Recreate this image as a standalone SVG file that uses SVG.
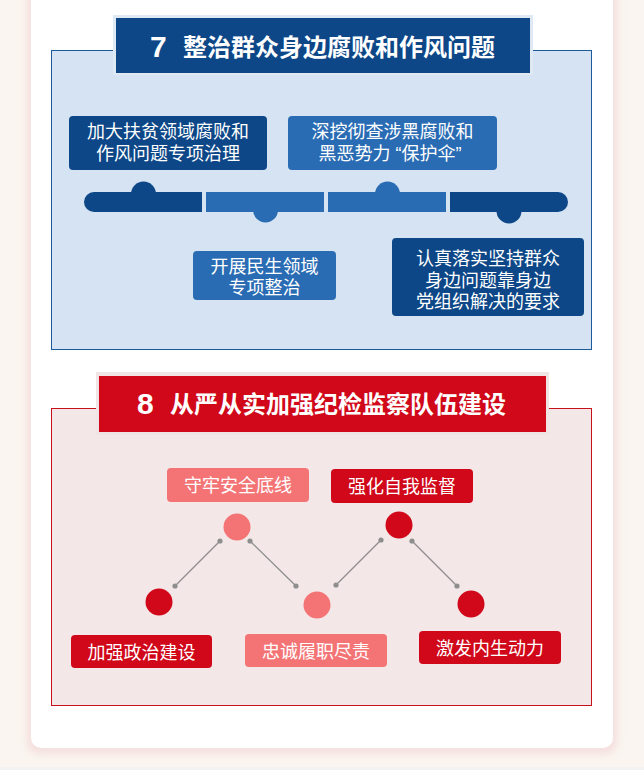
<svg xmlns="http://www.w3.org/2000/svg" width="644" height="770" viewBox="0 0 644 770">
  <defs>
    <filter id="shadow" x="-10%" y="-10%" width="120%" height="120%">
      <feGaussianBlur stdDeviation="4"/>
    </filter>
    <style>
      .lbl { font-family: "Liberation Sans", "Noto Sans CJK SC", sans-serif; font-size: 18px; fill: #ffffff; text-anchor: middle; }
      .ttl { font-family: "Liberation Sans", "Noto Sans CJK SC", sans-serif; font-size: 24px; font-weight: bold; fill: #ffffff; }
      .num { font-family: "Liberation Sans", Arial, sans-serif; font-size: 30px; font-weight: bold; fill: #ffffff; }
      .dkb { fill: #0d4787; }
      .mdb { fill: #2a6cb4; }
      .red { fill: #d0081a; }
      .sal { fill: #f47476; }
      .conn { stroke: #8e8e8e; stroke-width: 1.3; fill: none; }
      .dot { fill: #8e8e8e; }
    </style>
  </defs>

  <!-- background -->
  <rect x="0" y="0" width="644" height="770" fill="#faf5f0"/>
  <rect x="0" y="767" width="644" height="3" fill="#f3f3f3"/>
  <rect x="27" y="-20" width="590" height="774" rx="12" fill="#f2d6d6" opacity="0.7" filter="url(#shadow)"/>
  <rect x="31" y="-20" width="582" height="768" rx="10" fill="#ffffff"/>

  <!-- Section 7 -->
  <g id="section7">
    <rect x="51.5" y="50.5" width="540" height="299" fill="#d5e3f2" stroke="#1d5a9c" stroke-width="1"/>
    <g id="title7">
      <rect x="113" y="15" width="420" height="60" fill="#dfe9f4"/>
      <rect x="116" y="18" width="414" height="55" fill="#0d4787"/>
      <text class="num" x="150" y="57">7</text>
      <text class="ttl" x="183" y="56">整治群众身边腐败和作风问题</text>
    </g>
  </g>

  <g id="timeline">
    <circle cx="143.5" cy="194" r="12.5" class="dkb"/>
    <rect x="84" y="192" width="118" height="20" rx="10" class="dkb"/>
    <rect x="100" y="192" width="102" height="20" class="dkb"/>
    <rect x="206" y="192" width="118" height="20" class="mdb"/>
    <circle cx="265.5" cy="210" r="12.5" class="mdb"/>
    <circle cx="387.5" cy="194" r="12.5" class="mdb"/>
    <rect x="328" y="192" width="118" height="20" class="mdb"/>
    <rect x="450" y="192" width="118" height="20" rx="10" class="dkb"/>
    <rect x="450" y="192" width="100" height="20" class="dkb"/>
    <circle cx="509" cy="211" r="12.5" class="dkb"/>
  </g>

  <g id="node7-1">
    <rect x="69" y="116" width="198" height="54" rx="4" class="dkb"/>
    <text class="lbl" x="168" y="138">加大扶贫领域腐败和</text>
    <text class="lbl" x="168" y="160">作风问题专项治理</text>
  </g>
  <g id="node7-2">
    <rect x="288" y="116" width="209" height="54" rx="4" class="mdb"/>
    <text class="lbl" x="392.5" y="138">深挖彻查涉黑腐败和</text>
    <text class="lbl" x="390" y="160">黑恶势力 “保护伞”</text>
  </g>
  <g id="node7-3">
    <rect x="193" y="251" width="143" height="49" rx="4" class="mdb"/>
    <text class="lbl" x="264.5" y="273">开展民生领域</text>
    <text class="lbl" x="264.5" y="294">专项整治</text>
  </g>
  <g id="node7-4">
    <rect x="392" y="238" width="192" height="78" rx="4" class="dkb"/>
    <text class="lbl" x="488" y="265">认真落实坚持群众</text>
    <text class="lbl" x="488" y="287">身边问题靠身边</text>
    <text class="lbl" x="488" y="308">党组织解决的要求</text>
  </g>

  <!-- Section 8 -->
  <g id="section8">
    <rect x="51.5" y="408.5" width="540" height="297" fill="#f4e7e7" stroke="#c8101c" stroke-width="1"/>
    <g id="title8">
      <rect x="96" y="372" width="453" height="63" fill="#f1e4e4"/>
      <rect x="99" y="376" width="447" height="56" fill="#d0081a"/>
      <text class="num" x="137" y="414">8</text>
      <text class="ttl" x="170" y="413">从严从实加强纪检监察队伍建设</text>
    </g>
  </g>

  <g id="connectors">
    <line class="conn" x1="175" y1="586" x2="220" y2="541"/>
    <line class="conn" x1="250" y1="541" x2="296" y2="586"/>
    <line class="conn" x1="336" y1="585" x2="381" y2="540"/>
    <line class="conn" x1="412" y1="541" x2="457" y2="586"/>
    <circle class="dot" cx="175" cy="586" r="2.6"/>
    <circle class="dot" cx="220" cy="541" r="2.6"/>
    <circle class="dot" cx="250" cy="541" r="2.6"/>
    <circle class="dot" cx="296" cy="586" r="2.6"/>
    <circle class="dot" cx="336" cy="585" r="2.6"/>
    <circle class="dot" cx="381" cy="540" r="2.6"/>
    <circle class="dot" cx="412" cy="541" r="2.6"/>
    <circle class="dot" cx="457" cy="586" r="2.6"/>
  </g>

  <g id="node8-1">
    <circle cx="159" cy="602" r="13.5" class="red"/>
    <rect x="71" y="635" width="141" height="33" rx="4" class="red"/>
    <text class="lbl" x="141.5" y="659">加强政治建设</text>
  </g>
  <g id="node8-2">
    <circle cx="237" cy="527" r="13.5" class="sal"/>
    <rect x="167" y="468" width="142" height="34" rx="4" class="sal"/>
    <text class="lbl" x="238" y="492">守牢安全底线</text>
  </g>
  <g id="node8-3">
    <circle cx="317" cy="605" r="13.5" class="sal"/>
    <rect x="245" y="634" width="142" height="33" rx="4" class="sal"/>
    <text class="lbl" x="316" y="658">忠诚履职尽责</text>
  </g>
  <g id="node8-4">
    <circle cx="399" cy="525" r="13.5" class="red"/>
    <rect x="331" y="469" width="142" height="34" rx="4" class="red"/>
    <text class="lbl" x="402" y="493">强化自我监督</text>
  </g>
  <g id="node8-5">
    <circle cx="471" cy="604" r="13.5" class="red"/>
    <rect x="419" y="631" width="142" height="33" rx="4" class="red"/>
    <text class="lbl" x="490" y="655">激发内生动力</text>
  </g>
</svg>
